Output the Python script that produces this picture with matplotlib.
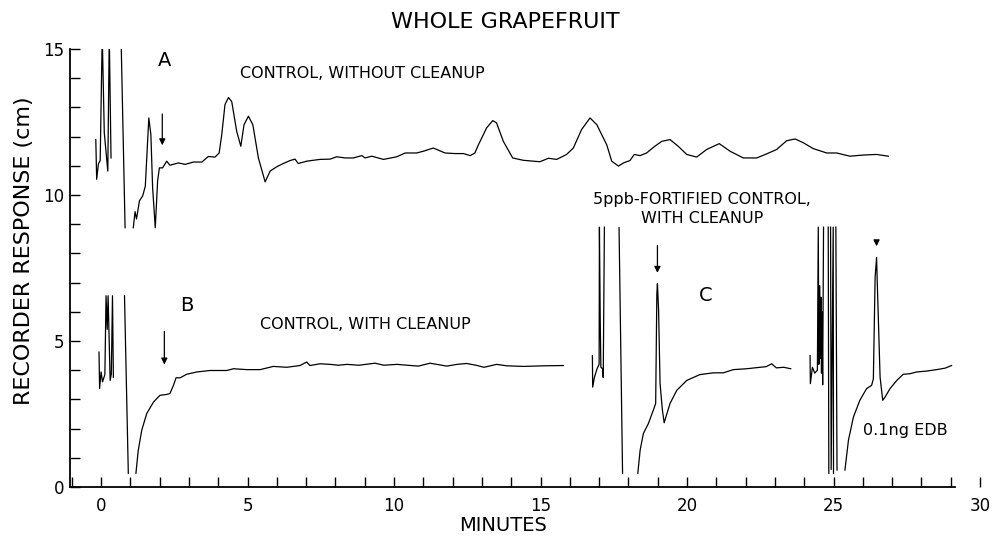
import numpy as np
import matplotlib
matplotlib.use("Agg")
import matplotlib.pyplot as plt
from matplotlib.ticker import MultipleLocator

nan = np.nan

# trace A: control, without cleanup (minutes, cm); values > 15 are off scale
t_a = [-0.18, -0.15, -0.09, -0.03, 0.04, 0.11, 0.23, 0.28, 0.34, nan, 0.68, 0.82, nan,
       1.10, 1.16, 1.21, 1.31, 1.42, 1.51, 1.63, 1.70, 1.76, 1.85, 1.93, 1.99, 2.10, 2.24,
       2.35, 2.64, 2.87, 3.15, 3.44, 3.66, 3.89, 4.03, 4.12, 4.23, 4.35, 4.46, 4.63, 4.77,
       4.88, 5.03, 5.18, 5.37, 5.60, 5.77, 6.00, 6.22, 6.45, 6.62, 6.73, 7.02, 7.47, 7.82,
       8.04, 8.33, 8.61, 8.90, 9.01, 9.24, 9.64, 10.09, 10.38, 10.77, 11.00, 11.34, 11.74,
       12.08, 12.37, 12.60, 12.76, 12.88, 13.16, 13.37, 13.50, 13.73, 14.05, 14.41, 14.98,
       15.27, 15.55, 15.89, 16.12, 16.40, 16.69, 16.92, 17.26, 17.43, 17.66, 17.83, 18.05,
       18.20, 18.40, 18.62, 18.90, 19.14, 19.42, 19.70, 19.99, 20.33, 20.67, 21.10, 21.47,
       21.92, 22.38, 22.72, 23.06, 23.40, 23.69, 23.97, 24.31, 24.77, 25.11, 25.56, 26.02,
       26.47, 26.87]
v_a = [11.9, 10.54, 11.07, 11.18, 15.5, 12.13, 10.82, 15.5, 11.27, nan, 15.5, 8.88, nan,
       8.88, 9.43, 9.18, 9.80, 9.97, 10.30, 12.64, 12.07, 10.25, 8.88, 10.48, 10.93, 10.93, 11.16,
       11.02, 11.10, 11.05, 11.13, 11.13, 11.32, 11.30, 11.44, 12.07, 13.10, 13.34, 13.20, 12.18, 11.67,
       12.41, 12.70, 12.41, 11.27, 10.45, 10.82, 10.97, 11.08, 11.18, 11.23, 11.08, 11.16, 11.22, 11.23,
       11.31, 11.27, 11.27, 11.35, 11.27, 11.33, 11.22, 11.31, 11.44, 11.44, 11.50, 11.61, 11.44,
       11.42, 11.42, 11.35, 11.44, 11.72, 12.30, 12.55, 12.47, 11.84, 11.27, 11.19, 11.14,
       11.26, 11.22, 11.39, 11.61, 12.24, 12.64, 12.41, 11.72, 11.16, 10.99, 11.10, 11.18,
       11.39, 11.35, 11.44, 11.67, 11.84, 11.90, 11.67, 11.39, 11.30, 11.56, 11.76, 11.50,
       11.27, 11.27, 11.41, 11.56, 11.86, 11.92, 11.79, 11.59, 11.44, 11.44, 11.33, 11.37,
       11.39, 11.33]

# trace B: control, with cleanup
t_b = [-0.07, -0.05, 0.00, 0.05, 0.13, 0.17, 0.21, 0.24, 0.31, 0.35, 0.39, 0.42, nan,
       0.80, 0.93, nan, 1.19, 1.27, 1.39, 1.56, 1.79, 2.01, 2.24, 2.35, 2.47, 2.56, 2.70,
       2.92, 3.27, 3.72, 4.29, 4.52, 4.97, 5.43, 5.88, 6.34, 6.79, 7.02, 7.13, 7.47, 7.82,
       8.10, 8.40, 8.80, 9.35, 9.65, 10.10, 10.45, 10.83, 11.23, 11.80, 12.15, 12.48, 12.80,
       13.07, 13.50, 13.85, 14.41, 15.10, 15.78]
v_b = [4.62, 3.37, 3.94, 3.60, 3.85, 6.55, 5.40, 6.55, 3.65, 3.87, 6.55, 3.76, nan,
       6.55, 0.47, nan, 0.47, 1.26, 1.95, 2.52, 2.91, 3.14, 3.17, 3.20, 3.48, 3.74, 3.74,
       3.86, 3.94, 3.99, 3.99, 4.05, 4.02, 4.02, 4.13, 4.10, 4.16, 4.28, 4.16, 4.22, 4.20,
       4.17, 4.20, 4.17, 4.24, 4.17, 4.20, 4.17, 4.14, 4.24, 4.14, 4.20, 4.23, 4.17,
       4.10, 4.20, 4.15, 4.13, 4.15, 4.16]

# trace C, first run: 5 ppb-fortified control, with cleanup
t_c1 = [16.77, 16.78, 16.84, 16.93, 17.00, 17.01, 17.04, 17.06, 17.12, 17.14, 17.18, nan,
        17.68, 17.80, nan, 18.32, 18.40, 18.51, 18.68, 18.85, 18.93, 18.97, 18.99, 19.03,
        19.08, 19.16, 19.22, 19.28, 19.42, 19.65, 19.99, 20.44, 20.90, 21.24, 21.58, 22.04,
        22.49, 22.70, 22.89, 23.05, 23.30, 23.54]
v_c1 = [4.50, 3.42, 3.76, 4.05, 4.20, 8.90, 5.50, 4.10, 4.05, 3.75, 8.90, nan,
        8.88, 0.47, nan, 0.47, 1.26, 1.83, 2.17, 2.63, 2.86, 6.60, 6.97, 6.04,
        3.54, 2.63, 2.20, 2.40, 2.86, 3.31, 3.65, 3.85, 3.91, 3.91, 4.02, 4.05,
        4.10, 4.12, 4.22, 4.08, 4.10, 4.05]

# trace C, second run: 0.1 ng EDB standard
t_c2 = [24.20, 24.21, 24.28, 24.36, 24.45, 24.48, 24.50, 24.53, 24.55, 24.57, 24.59, 24.61,
        24.63, 24.66, nan, 24.82, 24.84, nan, 24.90, 24.92, 24.99, 25.00, nan, 25.08, 25.12,
        nan, 25.39, 25.51, 25.68, 25.90, 26.13, 26.30, 26.36, 26.42, 26.47, 26.50, 26.59,
        26.68, 26.76, 26.93, 27.16, 27.38, 27.61, 27.84, 28.18, 28.52, 28.81, 29.03]
v_c2 = [4.50, 3.54, 4.10, 3.90, 4.00, 8.90, 4.20, 6.90, 4.40, 6.50, 3.90, 6.00,
        3.50, 8.90, nan, 8.90, 0.47, nan, 8.90, 0.60, 8.90, 0.47, nan, 8.90, 0.58,
        nan, 0.58, 1.60, 2.40, 2.97, 3.37, 3.48, 3.70, 7.18, 7.86, 6.80, 3.76,
        2.97, 3.08, 3.37, 3.65, 3.86, 3.88, 3.94, 3.97, 4.02, 4.07, 4.16]

fig = plt.figure(figsize=(9.93, 5.42), dpi=100)
ax = fig.add_axes([0.0705, 0.1015, 0.9164, 0.808])

for t, v in [(t_a, v_a), (t_b, v_b), (t_c1, v_c1), (t_c2, v_c2)]:
    ax.plot(t, v, color="black", lw=0.9)

ax.set_xlim(-1.06, 30)
ax.set_ylim(0, 15)
ax.spines["top"].set_visible(False)
ax.spines["right"].set_visible(False)
ax.spines["left"].set_linewidth(1.3)
ax.spines["bottom"].set_linewidth(1.3)
ax.spines["bottom"].set_bounds(-1.06, 29.15)

ax.xaxis.set_major_locator(MultipleLocator(5))
ax.xaxis.set_minor_locator(MultipleLocator(1))
ax.yaxis.set_major_locator(MultipleLocator(5))
ax.yaxis.set_minor_locator(MultipleLocator(1))
ax.tick_params(which="both", direction="in", length=7, width=1.0)
ax.tick_params(axis="x", labelsize=12, pad=7)
ax.tick_params(axis="y", labelsize=12, pad=4)
ax.xaxis.get_major_ticks()[-1].tick1line.set_visible(False)

ax.set_xlabel("MINUTES", fontsize=14)
ax.xaxis.set_label_coords(0.476, -0.066)
ax.set_ylabel("RECORDER RESPONSE (cm)", fontsize=16)
ax.yaxis.set_label_coords(-0.04, 0.539)
fig.suptitle("WHOLE GRAPEFRUIT", x=0.5086, y=0.96, va="center", fontsize=16)

arrow = dict(arrowstyle="-|>", color="black", lw=0.9, mutation_scale=9)
ax.annotate("", xy=(2.09, 11.61), xytext=(2.09, 12.87), arrowprops=arrow)
ax.annotate("", xy=(2.16, 4.10), xytext=(2.16, 5.42), arrowprops=arrow)
ax.annotate("", xy=(18.99, 7.24), xytext=(18.99, 8.37), arrowprops=arrow)
ax.annotate("", xy=(26.47, 8.15), xytext=(26.47, 8.45), arrowprops=arrow)

ax.text(2.17, 14.6, "A", fontsize=14, ha="center", va="center")
ax.text(4.74, 14.16, "CONTROL, WITHOUT CLEANUP", fontsize=11.5, ha="left", va="center")
ax.text(2.92, 6.21, "B", fontsize=14, ha="center", va="center")
ax.text(5.43, 5.56, "CONTROL, WITH CLEANUP", fontsize=11.5, ha="left", va="center")
ax.text(20.63, 6.55, "C", fontsize=14, ha="center", va="center")
ax.text(20.5, 9.53, "5ppb-FORTIFIED CONTROL,\nWITH CLEANUP", fontsize=11.5,
        ha="center", va="center", multialignment="center", linespacing=1.3)
ax.text(27.46, 1.95, "0.1ng EDB", fontsize=11.5, ha="center", va="center")

fig.savefig("out.png", dpi=100)
